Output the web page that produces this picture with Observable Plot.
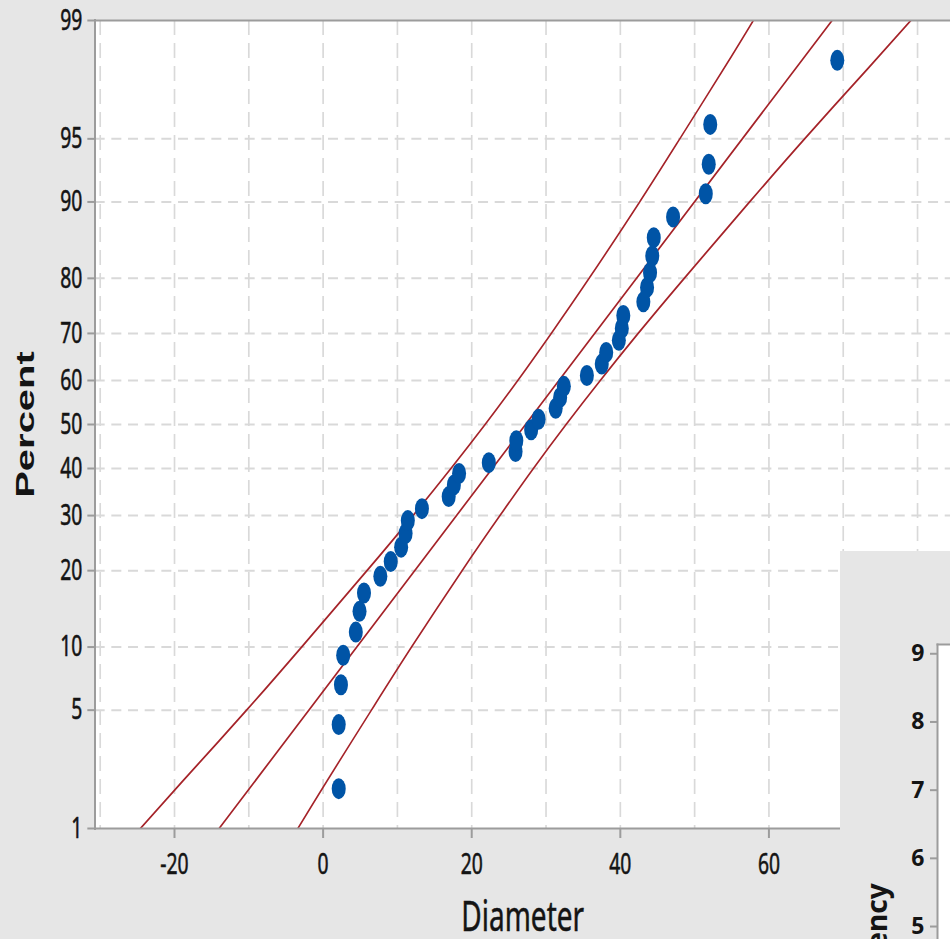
<!DOCTYPE html>
<html>
<head>
<meta charset="utf-8">
<script src="https://cdn.jsdelivr.net/npm/d3@7"></script>
<script src="https://cdn.jsdelivr.net/npm/@observablehq/plot@0.6"></script>
<style>
html, body { margin: 0; padding: 0; background: #e6e6e6; overflow: hidden; width: 950px; height: 939px; }
#wrap { position: absolute; left: 0; top: 0; width: 1425px; height: 939px; transform: scaleX(0.6667); transform-origin: 0 0; }
#main { position: absolute; left: 0; top: 0; }
#hist { position: absolute; left: 840px; top: 551px; width: 110px; height: 388px; overflow: hidden; background: #e6e6e6; z-index: 2; }
svg { font-family: "Noto Sans", sans-serif; }
#main g[aria-label="y-axis tick label"] text, #main g[aria-label="x-axis tick label"] text { stroke: #141414; stroke-width: 0.6px; }
#main g[aria-label="y-axis label"] text { font-family: "Liberation Sans", Arial, sans-serif; font-weight: bold; font-size: 40px; }
#main g[aria-label="x-axis label"] text { font-size: 42px; stroke: #141414; stroke-width: 0.5px; }
#hist g[aria-label="y-axis label"] text { font-size: 28px; font-weight: bold; }
</style>
</head>
<body>
<div id="wrap"><div id="main"></div></div>
<div id="hist"></div>
<script>
// ---- data ----
const diameter = [2.1, 2.1, 2.4, 2.7, 4.4, 4.9, 5.5, 7.7, 9.1, 10.5, 11.1, 11.4, 13.3, 16.9, 17.6, 18.3, 22.3, 25.9, 26.0, 28.0,
                  29.0, 31.3, 31.9, 32.4, 35.5, 37.5, 38.1, 39.8, 40.2, 40.4, 43.1, 43.6, 44.0, 44.3, 44.5, 47.1, 51.5, 51.9, 52.1, 69.2];
const percent = [1.8, 4.2, 6.7, 9.2, 11.6, 14.1, 16.6, 19.1, 21.5, 24.0, 26.5, 29.0, 31.4, 33.9, 36.4, 38.9, 41.3, 43.8, 46.3, 48.8,
                 51.2, 53.7, 56.2, 58.7, 61.1, 63.6, 66.1, 68.6, 71.0, 73.5, 76.0, 78.5, 80.9, 83.4, 85.9, 88.4, 90.8, 93.3, 95.8, 98.2];
const fitPct = [1, 99];
const fitX = [-14.0, 68.5];
const bandPct = [1, 2, 5, 10, 20, 30, 40, 50, 60, 70, 80, 90, 95, 98, 99];
const lowerX = [-24.6, -18.9, -10.3, -2.9, 5.9, 12.1, 17.2, 21.8, 26.2, 30.7, 35.8, 42.6, 48.0, 54.0, 57.9];
const upperX = [-3.4, 0.5, 6.5, 11.9, 18.7, 23.8, 28.3, 32.7, 37.3, 42.4, 48.6, 57.4, 64.8, 73.4, 79.1];
const yTicks = [1, 5, 10, 20, 30, 40, 50, 60, 70, 80, 90, 95, 99];
const yGrid = [5, 10, 20, 30, 40, 50, 60, 70, 80, 90, 95];
const xTicks = [-20, 0, 20, 40, 60, 80];
const xGrid = [-30, -20, -10, 0, 10, 20, 30, 40, 50, 60, 70, 80];
const freqTicks = [5, 6, 7, 8, 9];

// inverse of the standard normal CDF (probability scale)
function probit(p) {
  const a = [-3.969683028665376e+01, 2.209460984245205e+02, -2.759285104469687e+02, 1.383577518672690e+02, -3.066479806614716e+01, 2.506628277459239e+00];
  const b = [-5.447609879822406e+01, 1.615858368580409e+02, -1.556989798598866e+02, 6.680131188771972e+01, -1.328068155288572e+01];
  const c = [-7.784894002430293e-03, -3.223964580411365e-01, -2.400758277161838e+00, -2.549732539343734e+00, 4.374664141464968e+00, 2.938163982698783e+00];
  const d = [7.784695709041462e-03, 3.224671290700398e-01, 2.445134137142996e+00, 3.754408661907416e+00];
  const plow = 0.02425, phigh = 1 - plow;
  let q, r;
  if (p < plow) {
    q = Math.sqrt(-2 * Math.log(p));
    return (((((c[0]*q+c[1])*q+c[2])*q+c[3])*q+c[4])*q+c[5]) / ((((d[0]*q+d[1])*q+d[2])*q+d[3])*q+1);
  }
  if (p > phigh) {
    q = Math.sqrt(-2 * Math.log(1 - p));
    return -(((((c[0]*q+c[1])*q+c[2])*q+c[3])*q+c[4])*q+c[5]) / ((((d[0]*q+d[1])*q+d[2])*q+d[3])*q+1);
  }
  q = p - 0.5; r = q * q;
  return (((((a[0]*r+a[1])*r+a[2])*r+a[3])*r+a[4])*r+a[5])*q / (((((b[0]*r+b[1])*r+b[2])*r+b[3])*r+b[4])*r+1);
}

const pts = diameter.map((x, i) => ({x, z: probit(percent[i] / 100)}));
const bandRows = bandPct.map((p, i) => ({z: probit(p / 100), lo: lowerX[i], hi: upperX[i]}));
const fitRows = fitPct.map((p, i) => ({z: probit(p / 100), x: fitX[i]}));
const labelOf = new Map(yTicks.map(p => [probit(p / 100), String(p)]));

const red = "#a52329", blue = "#0054a6", axisGray = "#9c9c9c", gridGray = "#d9d9d9", ink = "#141414";

const main = Plot.plot({
  width: 1425, height: 939,
  marginLeft: 142, marginRight: 0, marginTop: 20, marginBottom: 111,
  style: {background: "transparent", fontFamily: "'Noto Sans', sans-serif", overflow: "visible", color: ink},
  x: {domain: [-30.7, 84.42]},
  y: {domain: [probit(0.01), probit(0.99)]},
  marks: [
    Plot.frame({fill: "white", stroke: null}),
    Plot.gridX(xGrid, {stroke: gridGray, strokeOpacity: 1, strokeWidth: 2.5, strokeDasharray: "15,8"}),
    Plot.gridY(yGrid.map(p => probit(p / 100)), {stroke: gridGray, strokeOpacity: 1, strokeWidth: 2, strokeDasharray: "15,10"}),
    Plot.line(bandRows, {x: "lo", y: "z", stroke: red, strokeWidth: 2.1, curve: "natural", clip: true}),
    Plot.line(fitRows, {x: "x", y: "z", stroke: red, strokeWidth: 2.1, clip: true}),
    Plot.line(bandRows, {x: "hi", y: "z", stroke: red, strokeWidth: 2.1, curve: "natural", clip: true}),
    Plot.dot(pts, {x: "x", y: "z", r: 10.5, fill: blue, stroke: null}),
    Plot.frame({anchor: "left", stroke: axisGray, strokeWidth: 3}),
    Plot.frame({anchor: "bottom", stroke: axisGray, strokeWidth: 2}),
    Plot.frame({anchor: "top", stroke: axisGray, strokeWidth: 2}),
    Plot.axisY(yTicks.map(p => probit(p / 100)), {
      tickSize: 11, tickPadding: 8, stroke: axisGray, strokeWidth: 2, fill: ink, fontSize: 29,
      tickFormat: z => labelOf.get(z),
      label: "Percent", labelAnchor: "center", labelOffset: 119.5, labelArrow: "none"
    }),
    Plot.axisX(xTicks, {
      tickSize: 10, tickPadding: 15, stroke: axisGray, strokeWidth: 3, fill: ink, fontSize: 29,
      tickFormat: d => String(d),
      label: "Diameter", labelAnchor: "center", labelOffset: 102, labelArrow: "none"
    })
  ]
});
document.getElementById("main").appendChild(main);

const hist = Plot.plot({
  width: 110, height: 776,
  marginLeft: 97, marginRight: 0, marginTop: 93, marginBottom: 60,
  style: {background: "transparent", fontFamily: "'Noto Sans', sans-serif", overflow: "visible", color: ink},
  y: {domain: [0, 9.136]},
  marks: [
    Plot.frame({fill: "white", stroke: null}),
    Plot.frame({anchor: "left", stroke: axisGray, strokeWidth: 2}),
    Plot.frame({anchor: "top", stroke: axisGray, strokeWidth: 2}),
    Plot.axisY(freqTicks, {
      tickSize: 7, tickPadding: 6, stroke: axisGray, strokeWidth: 2, fill: ink, fontSize: 23, fontWeight: "bold",
      tickFormat: d => String(d),
      label: "Frequency", labelAnchor: "center", labelOffset: 70, labelArrow: "none"
    })
  ]
});
document.getElementById("hist").appendChild(hist);
</script>
</body>
</html>
